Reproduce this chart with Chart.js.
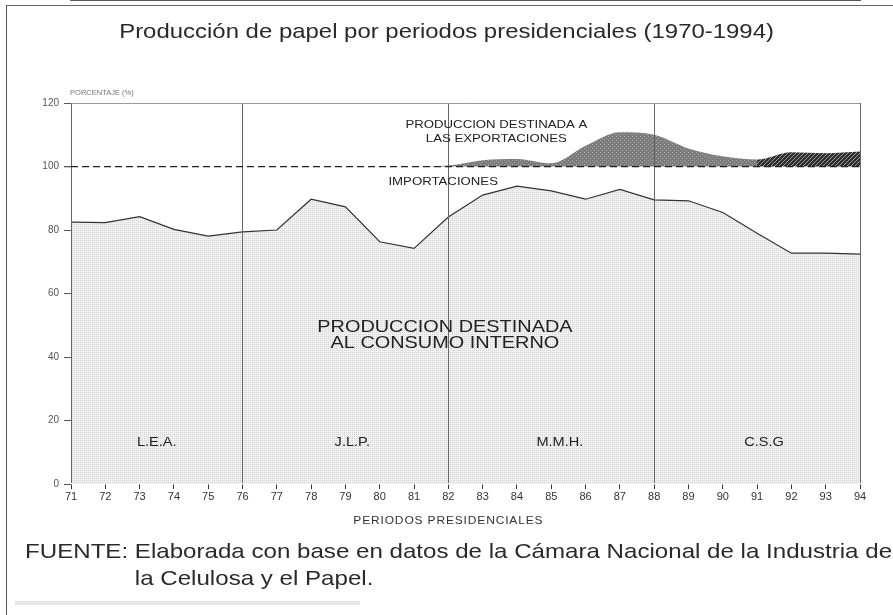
<!DOCTYPE html>
<html>
<head>
<meta charset="utf-8">
<script src="https://cdn.jsdelivr.net/npm/chart.js@4.4.0/dist/chart.umd.min.js"></script>
<style>
html,body{margin:0;padding:0;background:#fff;}
#wrap{position:relative;width:893px;height:615px;overflow:hidden;background:#fff;font-family:"Liberation Sans",Arial,Helvetica,sans-serif;color:#222;}
#frame{position:absolute;left:6px;top:5px;width:950px;height:700px;border-left:1.5px solid #555;border-top:1.5px solid #666;}
#title{position:absolute;left:0;width:893px;top:19px;text-align:center;font-size:21px;white-space:nowrap;transform:scaleX(1.14);transform-origin:446px 0;color:#2a2a2a;}
#fuente{position:absolute;left:25px;top:537px;font-size:21px;line-height:27px;white-space:nowrap;display:flex;transform:scaleX(1.148);transform-origin:0 0;color:#2a2a2a;}
#bar{position:absolute;left:15px;top:601px;width:345px;height:4px;background:#e6e6e6;}
canvas{position:absolute;left:0;top:0;}
</style>
</head>
<body>
<div id="wrap">
  <div id="frame"></div>
  <canvas id="c" width="893" height="615"></canvas>
  <div id="title">Producción de papel por periodos presidenciales (1970-1994)</div>
  <div id="fuente"><span>FUENTE:&nbsp;</span><span>Elaborada con base en datos de la Cámara Nacional de la Industria de<br>la Celulosa y el Papel.</span></div>
  <div id="bar"></div>
</div>
<script>
// ---- data ----
const anios = [71,72,73,74,75,76,77,78,79,80,81,82,83,84,85,86,87,88,89,90,91,92,93,94];
const consumoInterno = [82.5,82.3,84.2,80.2,78.1,79.4,80.0,89.7,87.3,76.3,74.2,84.1,91.0,93.8,92.3,89.7,92.8,89.5,89.2,85.5,79.0,72.7,72.7,72.4];
const exportaciones = [100,100,100,100,100,100,100,100,100,100,100,100.3,102.0,102.4,101.0,106.5,110.8,110.0,105.7,103.2,102.2,104.5,104.2,104.7];
const yTicks = [0,20,40,60,80,100,120];
const divisiones = [71,76,82,88,94];
const periodos = ['L.E.A.','J.L.P.','M.M.H.','C.S.G'];
const periodosCentro = [73.5,79.2,85.25,91.2];

// ---- annotation layout (not data) ----
const anotaciones = [
  {lineas:['PRODUCCION DESTINADA A','LAS EXPORTACIONES'], x:83.4, y:113.2, size:11, lh:14, st:1.2},
  {lineas:['IMPORTACIONES'], x:81.85, y:95.2, size:11, lh:13, st:1.2},
  {lineas:['PRODUCCION DESTINADA','AL CONSUMO INTERNO'], x:81.9, y:49.5, size:17, lh:16, st:1.17},
  {lineas:['PORCENTAJE (%)'], x:71.9, y:123.2, size:7.5, lh:8, color:'#777', st:1},
  {lineas:['PERIODOS PRESIDENCIALES'], x:82, y:-11.8, size:10, lh:10, color:'#333', ls:0.7, st:1.2}
];
periodos.forEach((p,i)=>anotaciones.push({lineas:[p], x:periodosCentro[i], y:13, size:13, lh:13, st:1.12}));

function patron(bg, dot, cells){
  const c = document.createElement('canvas');
  c.width = 4; c.height = 4;
  const g = c.getContext('2d');
  g.fillStyle = bg; g.fillRect(0,0,4,4);
  g.fillStyle = dot;
  cells.forEach(([x,y])=>g.fillRect(x,y,1,1));
  return g.createPattern(c,'repeat');
}
const patClaro = patron('#f1f1f1','#d4d4d4',[[0,0],[2,0],[0,2],[2,2]]);
const patMedio = patron('#7c7c7c','#a6a6a6',[[0,0],[2,2]]);
const patOscuro = patron('#2e2e2e','#9a9a9a',[[0,0],[2,2],[1,3],[3,1]]);

const textos = {
  id:'textos',
  afterDraw(chart){
    const {ctx, scales:{x,y}} = chart;
    anotaciones.forEach(a=>{
      ctx.save();
      ctx.font = a.size + 'px "Liberation Sans", Arial, sans-serif';
      ctx.fillStyle = a.color || '#222';
      ctx.textAlign = 'center';
      ctx.textBaseline = 'middle';
      try { ctx.letterSpacing = (a.ls || 0) + 'px'; } catch(e){}
      const px = x.getPixelForValue(a.x);
      const py = y.getPixelForValue(a.y);
      ctx.translate(px, py);
      ctx.scale(a.st || 1, 1);
      a.lineas.forEach((l,i)=>ctx.fillText(l, 0, i*a.lh));
      ctx.restore();
    });
  }
};

new Chart(document.getElementById('c'), {
  type:'line',
  data:{
    datasets:[
      {
        label:'Consumo interno',
        data: anios.map((a,i)=>({x:a, y:consumoInterno[i]})),
        fill:'origin',
        backgroundColor: patClaro,
        borderColor:'#333',
        borderWidth:1.2,
        pointRadius:0,
        tension:0
      },
      {
        label:'Exportaciones',
        data: anios.map((a,i)=>({x:a, y:exportaciones[i]})),
        fill:{value:100},
        backgroundColor: patMedio,
        borderColor:'rgba(0,0,0,0)',
        borderWidth:0,
        pointRadius:0,
        cubicInterpolationMode:'monotone',
        segment:{ backgroundColor: c => c.p0.parsed.x >= 91 ? patOscuro : patMedio }
      }
    ]
  },
  options:{
    responsive:false,
    animation:false,
    devicePixelRatio:1,
    layout:{padding:{left:0, top:103, right:33, bottom:101}},
    plugins:{legend:{display:false}, tooltip:{enabled:false}, title:{display:false}},
    scales:{
      x:{
        type:'linear', min:71, max:94,
        afterBuildTicks: s => { s.ticks = anios.map(v=>({value:v})); },
        ticks:{color:'#333', font:{size:11, family:'"Liberation Sans", Arial, sans-serif'}, padding:1, maxRotation:0, autoSkip:false},
        grid:{ z:1, color: c => divisiones.includes(c.tick && c.tick.value) ? '#666' : 'rgba(0,0,0,0)', lineWidth:1, tickColor:'#333', tickLength:5 },
        border:{display:true, color:'#222', width:1.5},
        afterFit: s => { s.height = 30; }
      },
      y:{
        min:0, max:120,
        afterBuildTicks: s => { s.ticks = yTicks.map(v=>({value:v})); },
        ticks:{color:'#555', font:{size:10, family:'"Liberation Sans", Arial, sans-serif'}, padding:5},
        grid:{ z:1, color: c => (c.tick && c.tick.value===100) ? '#222' : ((c.tick && c.tick.value===120) ? '#9a9a9a' : 'rgba(0,0,0,0)'), tickColor:'#555', tickLength:7, lineWidth: c => (c.tick && c.tick.value===100) ? 1.3 : 1 },
        border:{display:false, dash: c => (c.tick && c.tick.value===100) ? [7,4] : []},
        afterFit: s => { s.width = 71; }
      }
    }
  },
  plugins:[textos]
});
</script>
</body>
</html>
